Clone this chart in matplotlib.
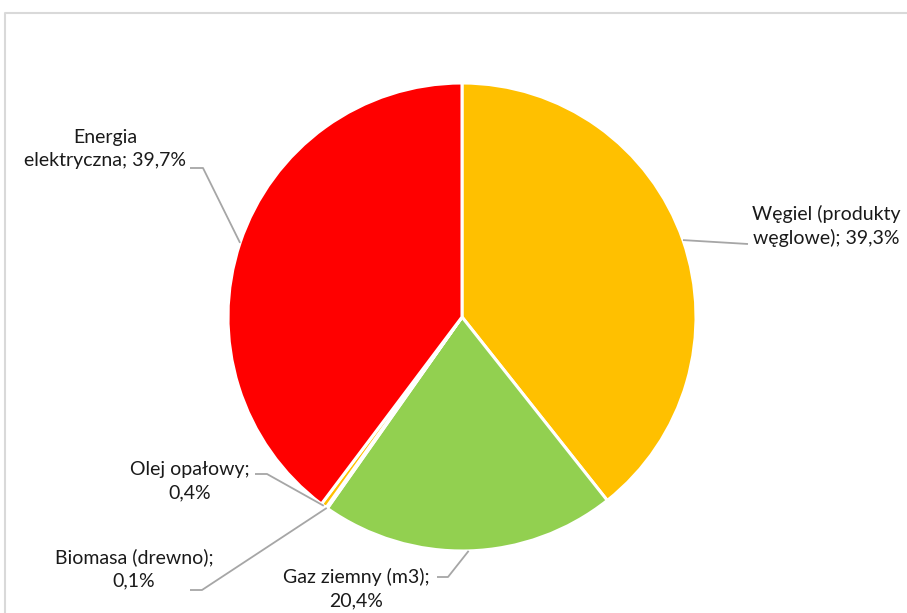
import numpy as np
import matplotlib
matplotlib.use("Agg")
from matplotlib import pyplot as plt

plt.rcParams['font.family'] = ['Lato', 'DejaVu Sans']

# dane
labels = ["Węgiel (produkty\nwęglowe); 39,3%", "Gaz ziemny (m3);\n20,4%",
          "Biomasa (drewno);\n0,1%", "Olej opałowy;\n0,4%",
          "Energia\nelektryczna; 39,7%"]
values = [39.3, 20.4, 0.1, 0.4, 39.7]
colors = ["#FFC000", "#92D050", "#5B9BD5", "#FFC000", "#FF0000"]

W, H = 907, 613
fig = plt.figure(figsize=(W / 100, H / 100), dpi=100)
ax = fig.add_axes([0, 0, 1, 1])

cx, cy, r = 462, H - 317, 234
wedges, _ = ax.pie(values, colors=colors, startangle=90, counterclock=False,
                   center=(cx, cy), radius=r, frame=True,
                   wedgeprops=dict(edgecolor="white", linewidth=2.2))
ax.set_xlim(0, W)
ax.set_ylim(0, H)
ax.set_aspect("equal")
ax.axis("off")

# polozenie etykiet (px od gory) i punkt zalamania linii
lab_pos = [(826, 226), (356, 589), (134, 569), (190, 481), (105, 149)]
elbows = [[(748, 244)], [(448, 577), (437, 577)], [(202, 590), (190, 590)],
          [(267, 474), (255, 474)], [(203, 168), (190, 168)]]

for w, txt, (lx, ly), elb in zip(wedges, labels, lab_pos, elbows):
    mid = np.deg2rad((w.theta1 + w.theta2) / 2)
    ex, ey = cx + r * np.cos(mid), cy + r * np.sin(mid)
    xs = [ex] + [p[0] for p in elb]
    ys = [ey] + [H - p[1] for p in elb]
    ax.plot(xs, ys, color="#A6A6A6", lw=1.3, solid_capstyle="butt")
    ax.text(lx, H - ly, txt, ha="center", va="center", multialignment="center",
            fontsize=14, color="#1a1a1a", linespacing=1.45)

# ramka wykresu
ax.plot([5, 5, W], [0, H - 13, H - 13], color="#D9D9D9", lw=1.5, clip_on=False)

fig.savefig("out.png", dpi=100)
